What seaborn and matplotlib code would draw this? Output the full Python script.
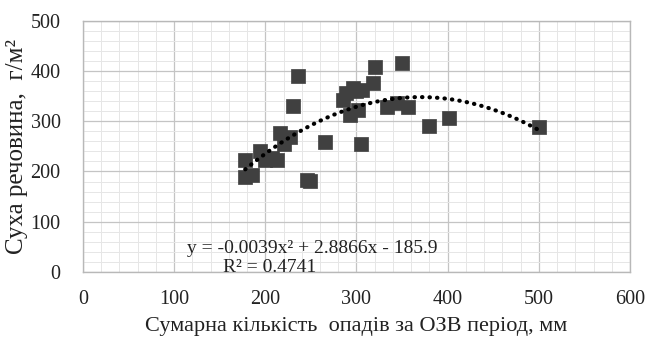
import numpy as np
import pandas as pd
import matplotlib
matplotlib.use('Agg')
import matplotlib.pyplot as plt
import seaborn as sns
from matplotlib.ticker import MultipleLocator

# precipitation (mm) vs dry matter (g/m2)
precip = [178, 178, 185, 194, 200, 207, 213, 216, 221, 227, 230, 236, 246, 249, 265, 285,
          288, 293, 296, 300, 302, 305, 306, 318, 320, 333, 344, 350, 357, 380, 401, 500]
dry_matter = [223, 189, 193, 240, 222, 226, 222, 277, 255, 268, 331, 390, 183, 182, 259, 343,
              357, 313, 366, 360, 323, 255, 362, 376, 408, 329, 336, 416, 329, 291, 307, 289]
# polynomial trendline coefficients (from the chart)
coef = [-0.0039, 2.8866, -185.9]

df = pd.DataFrame({'precip': precip, 'dry': dry_matter})

sns.set_theme(style='whitegrid')
plt.rcParams['font.family'] = ['Liberation Serif', 'DejaVu Serif']

fig, ax = plt.subplots(figsize=(6.47, 3.49), dpi=100)
fig.subplots_adjust(left=0.128, right=0.974, top=0.940, bottom=0.221)

sns.scatterplot(data=df, x='precip', y='dry', marker='s', s=110, color='#404040',
                edgecolor='#404040', linewidth=0.5, ax=ax, zorder=3)

xs = np.linspace(min(precip), max(precip), 200)
ax.plot(xs, np.polyval(coef, xs), color='black', lw=3, linestyle=(0, (0.1, 1.7)),
        dash_capstyle='round', zorder=4)

ax.set_xlim(0, 600)
ax.set_ylim(0, 500)
ax.xaxis.set_major_locator(MultipleLocator(100))
ax.yaxis.set_major_locator(MultipleLocator(100))
ax.xaxis.set_minor_locator(MultipleLocator(20))
ax.yaxis.set_minor_locator(MultipleLocator(20))
ax.grid(which='major', color='#c4c4c4', lw=0.9)
ax.grid(which='minor', color='#e6e6e6', lw=0.7)
ax.set_facecolor('white')
for s in ax.spines.values():
    s.set_color('#b8b8b8')
    s.set_linewidth(1)
ax.tick_params(which='both', length=0, labelsize=14.5, colors='#222222')
ax.tick_params(axis='x', pad=13)
ax.tick_params(axis='y', pad=16)

ax.set_xlabel('Сумарна кількість  опадів за ОЗВ період, мм', fontsize=16, color='#222222', labelpad=6)
ax.set_ylabel('Суха речовина,  г/м²', fontsize=18, color='#222222', labelpad=2)

ax.text(114, 47, 'y = -0.0039x² + 2.8866x - 185.9', fontsize=14, color='#222222', va='center')
ax.text(205, 8, 'R² = 0.4741', fontsize=14, color='#222222', va='center', ha='center')

plt.savefig('out.png', dpi=100)
